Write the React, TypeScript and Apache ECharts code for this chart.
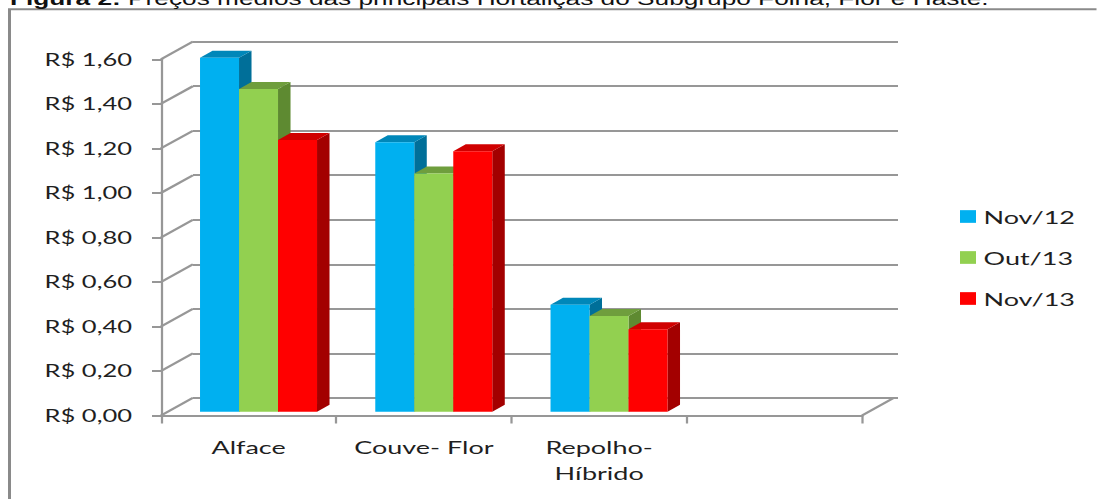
import React, { useEffect, useRef } from 'react';
import * as echarts from 'echarts';

// The reference picture is stretched horizontally; the chart is drawn narrower and stretched back with CSS.
const S = 1.5;
const W = 1097 / S;
const H = 499;

const categories = ['Alface', 'Couve- Flor', 'Repolho-\nHíbrido', ''];
const seriesNames = ['Nov/12', 'Out/13', 'Nov/13'];
const nov12 = [1.59, 1.21, 0.48];
const out13 = [1.45, 1.07, 0.43];
const nov13 = [1.22, 1.17, 0.37];
const yTicks = [0, 0.2, 0.4, 0.6, 0.8, 1.0, 1.2, 1.4, 1.6];
const yTickLabels = ['R$ 0,00', 'R$ 0,20', 'R$ 0,40', 'R$ 0,60', 'R$ 0,80', 'R$ 1,00', 'R$ 1,20', 'R$ 1,40', 'R$ 1,60'];
const titleBold = 'Figura 2:';
const titleRest = ' Preços médios das principais Hortaliças do Subgrupo Folha, Flor e Haste.';

const frontColors = ['#00B0F0', '#92D050', '#FF0000'];
const topColors = ['#0087B9', '#6F9E3D', '#D00000'];
const sideColors = ['#006F99', '#5E8A31', '#A30000'];

const GRID_COLOR = '#979797';
const TEXT_COLOR = '#1f1f1f';
const FONT = 'Lato';

// geometry (reference pixels, x divided by S)
const WALL_DX = 32 / S;
const WALL_DY = -17.7;
const BAR_DX = 12.5 / S;
const BAR_DY = -7;
const BAR_OY = -3.8;
const BAR_W = 39 / 175.25; // fraction of band
const GROUP_L = -48.6 / 175.25; // fraction of band

export default function App() {
  const ref = useRef<HTMLDivElement>(null);
  useEffect(() => {
    document.body.style.margin = '0';
    const el = ref.current!;
    const chart = echarts.init(el, null, { renderer: 'svg', width: W, height: H });

    const seriesData = [nov12, out13, nov13];

    const barSeries = seriesNames.map((name, si) => ({
      name,
      type: 'custom',
      xAxisIndex: 1,
      yAxisIndex: 1,
      clip: false,
      z: 3 + si,
      itemStyle: { color: frontColors[si] },
      encode: { x: 0, y: 1 },
      data: seriesData[si].map((v, i) => [i, v]),
      renderItem: (params: any, api: any) => {
        const cat = api.value(0);
        const v = api.value(1);
        const base = api.coord([cat, 0]);
        const top = api.coord([cat, v]);
        const band = api.size([1, 0])[0];
        const x0 = base[0] + band * (GROUP_L + si * BAR_W);
        const x1 = x0 + band * BAR_W;
        const yb = base[1] + BAR_OY;
        const yt = top[1] + BAR_OY;
        return {
          type: 'group',
          children: [
            {
              type: 'polygon',
              shape: { points: [[x1, yt], [x1 + BAR_DX, yt + BAR_DY], [x1 + BAR_DX, yb + BAR_DY], [x1, yb]] },
              style: { fill: sideColors[si] },
            },
            {
              type: 'polygon',
              shape: { points: [[x0, yt], [x0 + BAR_DX, yt + BAR_DY], [x1 + BAR_DX, yt + BAR_DY], [x1, yt]] },
              style: { fill: topColors[si] },
            },
            {
              type: 'rect',
              shape: { x: x0, y: yt, width: x1 - x0, height: yb - yt },
              style: { fill: frontColors[si] },
            },
          ],
        };
      },
    }));

    const wallSeries = {
      type: 'custom',
      xAxisIndex: 1,
      yAxisIndex: 1,
      clip: false,
      silent: true,
      z: 1,
      encode: { x: 0, y: 1 },
      data: yTicks.map((v) => [0, v]),
      renderItem: (params: any, api: any) => {
        const cs = params.coordSys;
        const v = api.value(1);
        const y = api.coord([0, v])[1];
        const children: any[] = [
          {
            type: 'line',
            shape: { x1: cs.x, y1: y, x2: cs.x + WALL_DX, y2: y + WALL_DY },
            style: { stroke: GRID_COLOR, lineWidth: 2 },
          },
        ];
        if (v === 0) {
          children.push({
            type: 'line',
            shape: { x1: cs.x + cs.width, y1: y, x2: cs.x + cs.width + WALL_DX, y2: y + WALL_DY },
            style: { stroke: GRID_COLOR, lineWidth: 2 },
          });
        }
        return { type: 'group', children };
      },
    };

    chart.setOption({
      animation: false,
      backgroundColor: '#ffffff',
      graphic: [
        {
          type: 'rect',
          shape: { x: 9.5 / S, y: 9.3, width: 1200, height: 700 },
          style: { fill: 'none', stroke: '#8a8a8a', lineWidth: 2 },
          z: 0,
        },
        {
          type: 'text',
          x: 10 / S,
          y: 8,
          style: {
            text: '{b|' + titleBold + '}' + titleRest,
            rich: { b: { fontWeight: 'bold', fontFamily: 'Liberation Sans', fontSize: 17.5, fill: '#111' } },
            fontFamily: 'Liberation Sans',
            fontSize: 17.5,
            fill: '#111',
            verticalAlign: 'bottom',
          },
        },
      ],
      legend: {
        orient: 'vertical',
        left: 960 / S,
        top: 206.5,
        padding: 0,
        itemWidth: 16 / S,
        itemHeight: 12.7,
        itemGap: 21,
        icon: 'rect',
        data: seriesNames,
        textStyle: { fontFamily: FONT, fontSize: 18, color: TEXT_COLOR, lineHeight: 20 },
      },
      grid: [
        { left: 193 / S, top: 41.5, width: (898 - 193) / S, height: 398 - 41.5 },
        { left: 161 / S, top: 59.3, width: (862 - 161) / S, height: 415.5 - 59.3 },
      ],
      xAxis: [
        { type: 'category', gridIndex: 0, data: categories, show: false },
        {
          type: 'category',
          gridIndex: 1,
          data: categories,
          axisLine: { lineStyle: { color: GRID_COLOR, width: 2 } },
          axisTick: { show: true, alignWithLabel: false, length: 8, lineStyle: { color: GRID_COLOR, width: 1.5 } },
          axisLabel: {
            interval: 0,
            margin: 18.5,
            fontFamily: FONT,
            fontSize: 18,
            lineHeight: 26,
            color: TEXT_COLOR,
          },
          splitLine: { show: false },
        },
      ],
      yAxis: [
        {
          type: 'value',
          gridIndex: 0,
          min: 0,
          max: 1.6,
          interval: 0.2,
          axisLabel: { show: false },
          axisLine: { show: false },
          axisTick: { show: false },
          splitLine: { show: true, lineStyle: { color: GRID_COLOR, width: 2 } },
        },
        {
          type: 'value',
          gridIndex: 1,
          min: 0,
          max: 1.6,
          interval: 0.2,
          axisLine: { show: true, lineStyle: { color: GRID_COLOR, width: 1.5 } },
          axisTick: { show: true, length: 9 / S, lineStyle: { color: GRID_COLOR, width: 2 } },
          splitLine: { show: false },
          axisLabel: {
            margin: 29 / S,
            fontFamily: FONT,
            fontSize: 17,
            color: TEXT_COLOR,
            formatter: (v: number) => yTickLabels[Math.round(v / 0.2)],
          },
        },
      ],
      series: [wallSeries, ...barSeries],
    });
    return () => chart.dispose();
  }, []);

  return (
    <div
      ref={ref}
      style={{ width: W + 'px', height: H + 'px', transform: `scaleX(${S})`, transformOrigin: '0 0' }}
    />
  );
}
